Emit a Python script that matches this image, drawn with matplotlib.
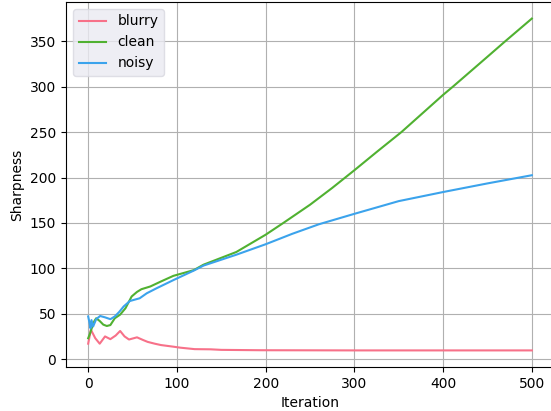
import matplotlib.pyplot as plt

# values
blurry_it = [0, 3, 8, 13, 19, 25, 31, 36, 41, 46, 55, 62, 67, 75, 82, 96, 104, 120, 138, 150, 194, 250, 300, 400, 500]
blurry = [17, 32.5, 23, 17, 25, 22, 26, 31, 25, 21.6, 24, 21, 19, 17, 15.5, 13.7, 12.6, 11, 10.8, 10.2, 9.8, 9.7, 9.6, 9.6, 9.6]

clean_it = [0, 2, 4, 7, 9, 13, 17, 21, 25, 30, 36, 42, 49, 55, 60, 70, 82, 96, 119, 130, 167, 200, 220, 250, 275, 300, 325, 353, 400, 411, 450, 470, 500]
clean = [23, 28, 34, 42, 45, 42, 38, 36.5, 37.5, 45, 49, 56, 69, 74, 77, 80, 85.5, 91.7, 98, 104, 118, 137, 150, 170, 188.5, 208, 228, 250, 291, 300, 333, 350, 375]

noisy_it = [0, 1.5, 2.6, 3.7, 5.6, 9, 13.5, 19, 25, 30, 35, 40, 47, 58, 66, 77, 96, 119, 130, 167, 200, 230, 260, 300, 350, 400, 450, 500]
noisy = [47, 40, 34, 43, 36, 44, 47.5, 46, 44, 47, 52, 58, 64, 67, 72.5, 78, 87, 97.5, 103, 115, 126.5, 138, 148.5, 160, 174, 184, 193.5, 202.5]

colors = ['#f77189', '#50b131', '#3ba3ec']

fig = plt.figure(figsize=(5.51, 4.11), dpi=100)
ax = fig.add_axes([66/551, 44/411, 488/551, 365/411])

ax.plot(blurry_it, blurry, color=colors[0], label='blurry')
ax.plot(clean_it, clean, color=colors[1], label='clean')
ax.plot(noisy_it, noisy, color=colors[2], label='noisy')

ax.grid(True)
ax.set_xlabel('Iteration')
ax.set_ylabel('Sharpness')
leg = ax.legend(loc='upper left', facecolor='#eaeaf2', edgecolor='#d8d8e0')

plt.savefig('out.png', dpi=100)
